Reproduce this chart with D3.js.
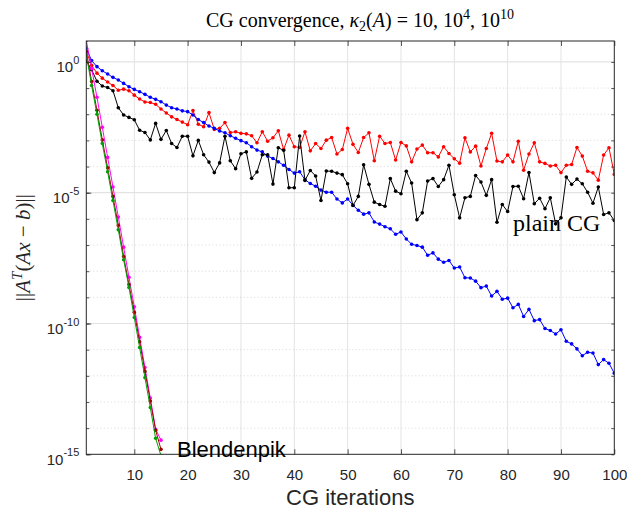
<!DOCTYPE html>
<html>
<head>
<meta charset="utf-8">
<script src="https://cdn.jsdelivr.net/npm/d3@7"></script>
<style>
  body { margin: 0; background: #fff; }
  svg { display: block; }
  .tick text { font-family: "Liberation Sans", Arial, sans-serif; fill: #262626; }
</style>
</head>
<body>
<svg width="627" height="510"></svg>
<script>
// residual norms, stored as log10 exponents
var iterations = d3.range(1, 101);
var blendIterations = d3.range(1, 16);

var blueExp = [0.52, 0.05, -0.18, -0.34, -0.46, -0.59, -0.69, -0.82, -0.95, -1.05,
  -1.14, -1.24, -1.35, -1.43, -1.52, -1.65, -1.75, -1.8, -1.87, -1.9,
  -2.03, -2.2, -2.32, -2.45, -2.54, -2.64, -2.71, -2.82, -2.92, -3.01,
  -3.09, -3.24, -3.37, -3.44, -3.6, -3.69, -3.82, -3.95, -4.11, -4.25,
  -4.2, -4.5, -4.65, -4.75, -4.9, -4.98, -4.98, -5.24, -5.39, -5.24,
  -5.48, -5.67, -5.82, -5.77, -6.12, -6.2, -6.3, -6.38, -6.59, -6.5,
  -6.77, -6.97, -7.02, -7.08, -7.39, -7.3, -7.54, -7.66, -7.59, -7.88,
  -7.84, -8.25, -8.26, -8.38, -8.63, -8.57, -8.95, -8.77, -9.07, -9.03,
  -9.4, -9.27, -9.73, -9.46, -9.89, -9.85, -10.19, -10.27, -10.4, -10.24,
  -10.68, -10.78, -10.97, -11.23, -11.1, -11.13, -11.57, -11.38, -11.52, -11.9];

var redExp = [0.4, -0.13, -0.43, -0.62, -0.77, -0.9, -1.08, -1.04, -1.1, -1.27,
  -1.42, -1.53, -1.55, -1.62, -1.8, -1.95, -2.1, -2.2, -2.3, -2.4,
  -1.86, -2.38, -2.48, -1.94, -2.58, -2.54, -2.32, -2.7, -2.67, -2.73,
  -2.75, -2.82, -3.09, -2.67, -3.03, -2.9, -2.63, -3.35, -2.8, -3.24,
  -3.27, -2.67, -3.4, -3.12, -3.31, -2.99, -2.89, -3.52, -3.35, -2.54,
  -3.15, -3.46, -2.89, -2.71, -3.78, -2.84, -3.12, -3.08, -3.75, -3.08,
  -3.21, -3.82, -3.33, -3.18, -3.47, -3.47, -3.63, -3.24, -3.5, -3.7,
  -3.87, -2.9, -3.44, -3.22, -3.98, -3.31, -2.73, -3.79, -3.82, -3.56,
  -3.82, -3.03, -4.14, -3.52, -3.09, -3.82, -3.88, -3.98, -3.95, -4.23,
  -3.95, -3.92, -3.27, -3.6, -4.18, -4.24, -4.52, -3.56, -3.28, -4.3];

var blackExp = [0.03, -0.3, -0.74, -0.92, -0.98, -1.1, -1.75, -2.03, -2.12, -2.21,
  -2.61, -2.7, -2.98, -2.35, -2.96, -2.62, -3.12, -3.27, -2.84, -2.84,
  -3.59, -3.0, -3.55, -3.83, -4.23, -3.86, -2.84, -3.78, -4.08, -3.51,
  -3.44, -4.45, -4.21, -3.55, -3.55, -4.67, -3.28, -3.38, -4.81, -4.81,
  -2.83, -4.53, -4.15, -4.36, -5.3, -4.17, -4.18, -4.25, -4.31, -4.66,
  -5.49, -5.14, -3.93, -4.68, -5.36, -5.45, -5.52, -4.46, -4.94, -5.04,
  -4.18, -4.63, -6.03, -5.77, -4.55, -4.46, -4.76, -4.5, -3.95, -5.08,
  -5.96, -5.19, -5.14, -4.34, -4.59, -5.1, -4.5, -6.13, -5.45, -5.72,
  -4.76, -4.75, -5.23, -4.23, -5.42, -5.21, -5.61, -5.19, -6.19, -5.96,
  -4.4, -4.68, -4.48, -4.66, -4.98, -5.4, -4.78, -5.83, -5.77, -6.06];

var magentaExp = [0.82, -0.25, -1.35, -2.5, -3.65, -4.78, -5.93, -7.08, -8.23, -9.36,
  -10.53, -11.68, -12.85, -14.04, -14.46];
var darkRedExp = [0.4, -0.75, -1.85, -2.98, -4.05, -5.14, -6.25, -7.44, -8.51, -9.57,
  -10.7, -11.83, -12.96, -14.08, -14.81];
var greenExp = [0.28, -0.9, -2.0, -3.12, -4.2, -5.3, -6.42, -7.56, -8.62, -9.77,
  -10.92, -12.07, -13.21, -14.39, -15.05];

var xTicks = [10, 20, 30, 40, 50, 60, 70, 80, 90, 100];
var yMajor = [0, -5, -10, -15];
var yDecades = d3.range(0, -16, -1);

var svg = d3.select("svg");
// note: "top" is taken by window.top, so use plot* names
var plotLeft = 86.3, plotRight = 614.3, plotTop = 41, plotBottom = 454.3;
var axisColor = "#262626";

var x = d3.scaleLinear().domain([1, 100]).range([plotLeft, plotRight]);
var y = d3.scaleLog().domain([1e-15, Math.pow(10, 0.8)]).range([plotBottom, plotTop]);

svg.append("defs").append("clipPath").attr("id", "plotclip")
  .append("rect")
  .attr("x", plotLeft).attr("y", plotTop)
  .attr("width", plotRight - plotLeft).attr("height", plotBottom - plotTop);

// grid
var grid = svg.append("g");
grid.selectAll("line.vg")
  .data(xTicks.slice(0, -1))
  .enter().append("line")
  .attr("x1", function (d) { return x(d); })
  .attr("x2", function (d) { return x(d); })
  .attr("y1", plotTop).attr("y2", plotBottom)
  .attr("stroke", "#e3e3e3").attr("stroke-width", 1);

grid.selectAll("line.hg")
  .data(yDecades.filter(function (e) { return e > -15; }))
  .enter().append("line")
  .attr("x1", plotLeft).attr("x2", plotRight)
  .attr("y1", function (e) { return y(Math.pow(10, e)); })
  .attr("y2", function (e) { return y(Math.pow(10, e)); })
  .attr("stroke", function (e) { return e % 5 === 0 ? "#e3e3e3" : "#cfcfcf"; })
  .attr("stroke-width", function (e) { return e % 5 === 0 ? 1.2 : 0.8; })
  .attr("stroke-dasharray", function (e) { return e % 5 === 0 ? null : "1,2.5"; });

// series
function drawSeries(xs, exps, color) {
  var pts = exps.map(function (e, i) { return [xs[i], Math.pow(10, e)]; });
  var g = svg.append("g").attr("clip-path", "url(#plotclip)");
  g.append("path")
    .datum(pts)
    .attr("fill", "none")
    .attr("stroke", color)
    .attr("stroke-width", 1)
    .attr("d", d3.line()
      .x(function (d) { return x(d[0]); })
      .y(function (d) { return y(d[1]); }));
  g.selectAll("circle")
    .data(pts)
    .enter().append("circle")
    .attr("cx", function (d) { return x(d[0]); })
    .attr("cy", function (d) { return y(d[1]); })
    .attr("r", 1.8)
    .attr("fill", color);
}

drawSeries(iterations, redExp, "#ff0000");
drawSeries(iterations, blueExp, "#0000ff");
drawSeries(iterations, blackExp, "#000000");
drawSeries(blendIterations, magentaExp, "#ff00ff");
drawSeries(blendIterations, darkRedExp, "#a00000");
drawSeries(blendIterations, greenExp, "#00a000");

// axes, ticks point inward like matlab
var xAxis = svg.append("g")
  .attr("transform", "translate(0," + plotBottom + ")")
  .call(d3.axisBottom(x).tickValues(xTicks).tickSize(-5).tickSizeOuter(0).tickPadding(15));
xAxis.selectAll(".tick text").attr("font-size", 15);

svg.append("g")
  .attr("transform", "translate(0," + plotTop + ")")
  .call(d3.axisTop(x).tickValues(xTicks).tickSize(-5).tickSizeOuter(0).tickFormat(""));

var decadeVals = yDecades.map(function (e) { return Math.pow(10, e); });
var majorVals = yMajor.map(function (e) { return Math.pow(10, e); });

svg.append("g")
  .attr("transform", "translate(" + plotLeft + ",0)")
  .call(d3.axisLeft(y).tickValues(decadeVals).tickSize(-3).tickSizeOuter(0).tickFormat(""));
svg.append("g")
  .attr("transform", "translate(" + plotRight + ",0)")
  .call(d3.axisRight(y).tickValues(decadeVals).tickSize(-3).tickSizeOuter(0).tickFormat(""));

var yAxis = svg.append("g")
  .attr("transform", "translate(" + plotLeft + ",0)")
  .call(d3.axisLeft(y).tickValues(majorVals).tickSize(-5).tickSizeOuter(0).tickPadding(7));
yAxis.selectAll(".tick text")
  .attr("dy", null)
  .attr("y", 10)
  .text(null)
  .each(function (d) {
    var t = d3.select(this);
    var p = Math.round(Math.log10(d));
    t.append("tspan").attr("font-size", 15).text("10");
    t.append("tspan").attr("font-size", 11).attr("dy", -8.5)
      .text(p === 0 ? "0" : "-" + (-p));
  });

svg.selectAll(".domain").remove();
svg.selectAll(".tick line").attr("stroke", axisColor).attr("stroke-width", 0.8);

// box
svg.append("rect")
  .attr("x", plotLeft).attr("y", plotTop)
  .attr("width", plotRight - plotLeft).attr("height", plotBottom - plotTop)
  .attr("fill", "none").attr("stroke", axisColor).attr("stroke-width", 1);

// labels
var serif = "'Liberation Serif', 'Times New Roman', serif";
var title = svg.append("text")
  .attr("x", 360).attr("y", 27)
  .attr("text-anchor", "middle")
  .attr("font-family", serif).attr("font-size", 20).attr("fill", "#000");
title.append("tspan").text("CG convergence, ");
title.append("tspan").attr("font-style", "italic").text("\u03ba");
title.append("tspan").attr("font-size", 14).attr("dy", 4).text("2");
title.append("tspan").attr("dy", -4).text("(");
title.append("tspan").attr("font-style", "italic").text("A");
title.append("tspan").text(") = 10, 10");
title.append("tspan").attr("font-size", 14).attr("dy", -8).text("4");
title.append("tspan").attr("dy", 8).text(", 10");
title.append("tspan").attr("font-size", 14).attr("dy", -8).text("10");

svg.append("text")
  .attr("x", (plotLeft + plotRight) / 2).attr("y", 505)
  .attr("text-anchor", "middle")
  .attr("font-family", "'Liberation Sans', Arial, sans-serif")
  .attr("font-size", 22).attr("fill", axisColor)
  .text("CG iterations");

var ylab = svg.append("text")
  .attr("transform", "translate(30," + (plotTop + plotBottom) / 2 + ") rotate(-90)")
  .attr("text-anchor", "middle")
  .attr("font-family", serif).attr("font-size", 21).attr("fill", axisColor);
ylab.append("tspan").text("||");
ylab.append("tspan").attr("font-style", "italic").text("A");
ylab.append("tspan").attr("font-style", "italic").attr("font-size", 15).attr("dy", -8).text("T");
ylab.append("tspan").attr("dy", 8).text("(");
ylab.append("tspan").attr("font-style", "italic").text("Ax");
ylab.append("tspan").text(" \u2212 ");
ylab.append("tspan").attr("font-style", "italic").text("b");
ylab.append("tspan").text(")||");

svg.append("text")
  .attr("x", 513).attr("y", 231)
  .attr("font-family", serif).attr("font-size", 24).attr("fill", "#000")
  .text("plain CG");

svg.append("text")
  .attr("x", 177).attr("y", 457)
  .attr("font-family", "'Liberation Sans', Arial, sans-serif")
  .attr("font-size", 22).attr("fill", "#000")
  .text("Blendenpik");
</script>
</body>
</html>
